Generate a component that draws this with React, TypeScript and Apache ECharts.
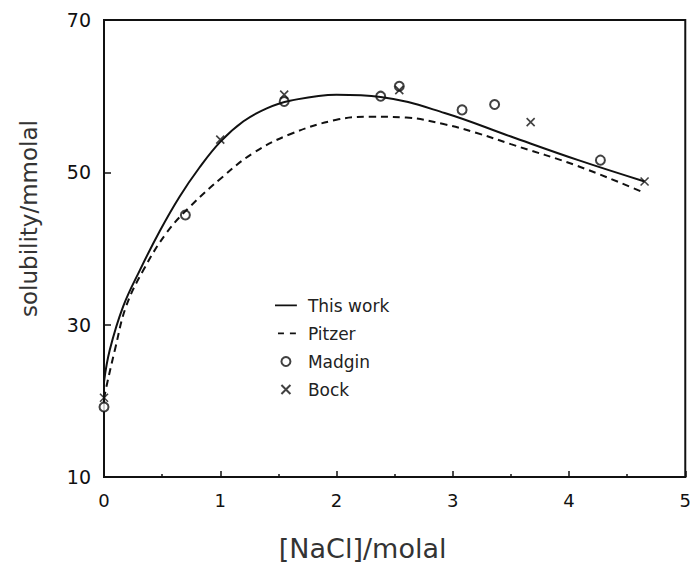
import React, { useEffect, useRef } from "react";
import * as echarts from "echarts";

const xTicks = [0, 1, 2, 3, 4, 5];
const yTicks = [10, 30, 50, 70];

// "This work" curve
const thisWorkX = [0, 0.05, 0.165, 0.31, 0.48, 0.65, 0.82, 1.0, 1.2, 1.4, 1.6, 2.0, 2.38, 2.93, 3.5, 4.08, 4.65];
const thisWorkY = [22.5, 26.7, 32.4, 37.2, 42.3, 46.8, 50.6, 54.0, 56.7, 58.4, 59.4, 60.2, 59.9, 57.8, 54.7, 51.6, 48.8];

// Pitzer curve
const pitzerX = [0, 0.03, 0.094, 0.19, 0.34, 0.54, 0.74, 1.02, 1.28, 1.6, 2.0, 2.3, 2.6, 2.93, 3.2, 3.5, 4.08, 4.65];
const pitzerY = [20.3, 22.5, 26.7, 32.4, 37.2, 42.1, 45.5, 49.4, 52.5, 55.0, 56.9, 57.3, 57.2, 56.3, 55.2, 53.7, 50.8, 47.3];

// Madgin data
const madginX = [0, 0.7, 1.55, 2.38, 2.54, 3.08, 3.36, 4.27];
const madginY = [19.2, 44.4, 59.3, 60.0, 61.3, 58.2, 58.9, 51.6];

// Bock data
const bockX = [0, 1.0, 1.55, 2.54, 3.67, 4.65];
const bockY = [20.4, 54.3, 60.2, 60.8, 56.6, 48.8];

const legendNames = ["This work", "Pitzer", "Madgin", "Bock"];

const zip = (xs: number[], ys: number[]) => xs.map((x, i) => [x, ys[i]]);

const crossPath = "path://M0,0L10,10M10,0L0,10";
const solidIcon = "path://M0,0h0.05v0.05h-0.05Z M0,3.6H22V5.4H0Z M0,9h0.05v0.05h-0.05Z";
const dashIcon = "path://M0,0h0.05v0.05h-0.05Z M2,3.6H8V5.4H2Z M14,3.6H20V5.4H14Z M0,9h0.05v0.05h-0.05Z";

export default function App() {
  const ref = useRef<HTMLDivElement>(null);
  useEffect(() => {
    if (!ref.current) return;
    const chart = echarts.init(ref.current, null, { renderer: "svg" });
    const font = "DejaVu Sans";
    chart.setOption({
      animation: false,
      backgroundColor: "#ffffff",
      grid: {
        left: 104,
        right: 6,
        top: 20,
        bottom: 92,
        show: true,
        borderColor: "#111",
        borderWidth: 2,
        backgroundColor: "transparent",
      },
      legend: {
        orient: "vertical",
        left: 270,
        top: 292,
        itemWidth: 22,
        itemHeight: 9,
        itemGap: 11,
        textStyle: {
          fontFamily: font,
          fontSize: 17,
          color: "#222",
          padding: [0, 0, 0, 6],
        },
        data: [
          { name: legendNames[0], icon: solidIcon },
          { name: legendNames[1], icon: dashIcon },
          { name: legendNames[2] },
          { name: legendNames[3] },
        ],
      },
      xAxis: {
        type: "value",
        min: 0,
        max: 5,
        interval: 1,
        name: "[NaCl]/molal",
        nameLocation: "middle",
        nameGap: 58,
        nameTextStyle: {
          fontFamily: font,
          fontSize: 27,
          color: "#333",
          padding: [0, 64, 0, 0],
        },
        axisLine: { show: true, lineStyle: { color: "#111", width: 2 } },
        axisTick: { show: true, inside: true, length: 6, lineStyle: { color: "#111", width: 1.5 } },
        minorTick: { show: true, splitNumber: 2, length: 3, lineStyle: { color: "#111", width: 1.5 } },
        axisLabel: {
          fontFamily: font,
          fontSize: 18,
          color: "#111",
          margin: 14,
          formatter: (v: number) => (xTicks.includes(v) ? String(v) : ""),
        },
        splitLine: { show: false },
      },
      yAxis: {
        type: "value",
        min: 10,
        max: 70,
        interval: 20,
        name: "solubility/mmolal",
        nameLocation: "middle",
        nameGap: 64,
        nameRotate: 90,
        nameTextStyle: {
          fontFamily: font,
          fontSize: 23,
          color: "#333",
          padding: [0, 0, 0, 60],
        },
        axisLine: { show: true, lineStyle: { color: "#111", width: 2 } },
        axisTick: { show: true, inside: true, length: 7, lineStyle: { color: "#111", width: 1.5 } },
        axisLabel: {
          fontFamily: font,
          fontSize: 19,
          color: "#111",
          margin: 13,
          formatter: (v: number) => (yTicks.includes(v) ? String(v) : ""),
        },
        splitLine: { show: false },
      },
      series: [
        {
          name: legendNames[0],
          type: "line",
          data: zip(thisWorkX, thisWorkY),
          smooth: 0.4,
          symbol: "none",
          lineStyle: { color: "#111", width: 2 },
          itemStyle: { color: "#111" },
        },
        {
          name: legendNames[1],
          type: "line",
          data: zip(pitzerX, pitzerY),
          smooth: 0.4,
          symbol: "none",
          lineStyle: { color: "#111", width: 2, type: [7, 5] },
          itemStyle: { color: "#111" },
        },
        {
          name: legendNames[2],
          type: "scatter",
          data: zip(madginX, madginY),
          symbol: "emptyCircle",
          symbolSize: 9,
          clip: false,
          itemStyle: { color: "#111", borderColor: "#111", borderWidth: 1.6 },
        },
        {
          name: legendNames[3],
          type: "scatter",
          data: zip(bockX, bockY),
          symbol: crossPath,
          symbolSize: 8,
          clip: false,
          itemStyle: { color: "none", borderColor: "#111", borderWidth: 1.6 },
        },
      ],
    });
    return () => chart.dispose();
  }, []);
  return <div ref={ref} style={{ width: 694, height: 569, position: "absolute", left: 0, top: 0 }} />;
}
